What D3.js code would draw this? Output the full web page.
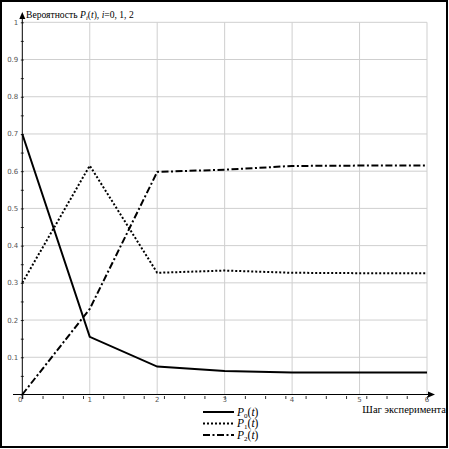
<!DOCTYPE html>
<html>
<head>
<meta charset="utf-8">
<script src="https://cdn.jsdelivr.net/npm/d3@7"></script>
<style>
  html, body { margin: 0; padding: 0; background: #fff; }
  svg { display: block; }
  .tick-label { font-family: "DejaVu Sans", sans-serif; font-size: 7px; fill: #555; }
  .serif { font-family: "Liberation Serif", "Times New Roman", serif; fill: #000; }
</style>
</head>
<body>
<div id="chart"></div>
<script>
  // ─── Data ───
  const steps = [0, 1, 2, 3, 4, 5, 6];
  const p0 = [0.7, 0.155, 0.075, 0.063, 0.059, 0.059, 0.059];
  const p1 = [0.3, 0.615, 0.327, 0.333, 0.327, 0.326, 0.326];
  const p2 = [0, 0.23, 0.598, 0.604, 0.614, 0.615, 0.615];
  const seriesNames = ['0', '1', '2'];
  const xTicks = [0, 1, 2, 3, 4, 5, 6];
  const yTicks = [0.1, 0.2, 0.3, 0.4, 0.5, 0.6, 0.7, 0.8, 0.9, 1];

  const W = 449, H = 449;
  const svg = d3.select('#chart').append('svg').attr('width', W).attr('height', H);

  const x = d3.scaleLinear().domain([0, 6]).range([22.3, 427]);
  const y = d3.scaleLinear().domain([0, 1]).range([394.5, 22.3]);

  // outer frame
  svg.append('rect')
    .attr('x', 1).attr('y', 1).attr('width', W - 3).attr('height', H - 3)
    .attr('fill', 'none').attr('stroke', '#000').attr('stroke-width', 2);

  // grid
  const grid = svg.append('g').attr('stroke', '#cfcfcf').attr('stroke-width', 1);
  grid.selectAll('line.v').data(xTicks.slice(1)).enter().append('line')
    .attr('x1', d => x(d)).attr('x2', d => x(d))
    .attr('y1', y(0)).attr('y2', y(1));
  grid.selectAll('line.h').data(yTicks).enter().append('line')
    .attr('x1', x(0)).attr('x2', x(6))
    .attr('y1', d => y(d)).attr('y2', d => y(d));

  // axes: minor ticks via d3 axes, labels added separately
  const xMinor = d3.range(0, 21).map(i => +(i * 0.3).toFixed(1));
  const yMinor = d3.range(0, 21).map(i => +(i * 0.05).toFixed(2));

  const xAxis = svg.append('g')
    .attr('transform', `translate(0,${y(0) + 1.5})`)
    .call(d3.axisBottom(x).tickValues(xMinor).tickSize(3).tickFormat(''));
  xAxis.select('.domain').remove();
  xAxis.selectAll('line').attr('stroke', '#333');

  const yAxis = svg.append('g')
    .attr('transform', `translate(${x(0) + 1.5},0)`)
    .call(d3.axisLeft(y).tickValues(yMinor).tickSize(3).tickFormat(''));
  yAxis.select('.domain').remove();
  yAxis.selectAll('line').attr('stroke', '#333');

  // axis lines with arrows
  svg.append('line').attr('x1', 13).attr('x2', 430).attr('y1', y(0)).attr('y2', y(0))
    .attr('stroke', '#000').attr('stroke-width', 1);
  svg.append('path').attr('d', `M435,${y(0)} L428,${y(0) - 3} L428,${y(0) + 3} Z`).attr('fill', '#000');
  svg.append('line').attr('x1', x(0)).attr('x2', x(0)).attr('y1', 399).attr('y2', 17)
    .attr('stroke', '#000').attr('stroke-width', 1);
  svg.append('path').attr('d', `M${x(0)},12 L${x(0) - 3},19 L${x(0) + 3},19 Z`).attr('fill', '#000');

  // tick labels
  svg.selectAll('text.xl').data(xTicks).enter().append('text')
    .attr('class', 'tick-label')
    .attr('x', d => x(d) - (d === 0 ? 2 : 0)).attr('y', y(0) + 7)
    .attr('text-anchor', 'middle')
    .text(d => d);
  svg.selectAll('text.yl').data(yTicks).enter().append('text')
    .attr('class', 'tick-label')
    .attr('x', x(0) - 4).attr('y', d => y(d) + 2.5)
    .attr('text-anchor', 'end')
    .text(d => d);

  // titles
  const yTitle = svg.append('text').attr('class', 'serif').attr('x', 26).attr('y', 18).attr('font-size', 9.6);
  yTitle.append('tspan').text('Вероятность ');
  yTitle.append('tspan').attr('font-style', 'italic').text('P');
  yTitle.append('tspan').attr('font-style', 'italic').attr('font-size', 6.5).attr('dy', 2).text('i');
  yTitle.append('tspan').attr('dy', -2).text('(');
  yTitle.append('tspan').attr('font-style', 'italic').text('t');
  yTitle.append('tspan').text('), ');
  yTitle.append('tspan').attr('font-style', 'italic').text('i');
  yTitle.append('tspan').text('=0, 1, 2');

  svg.append('text').attr('class', 'serif')
    .attr('x', 446).attr('y', 412.5).attr('text-anchor', 'end').attr('font-size', 10.5)
    .text('Шаг эксперимента');

  // series
  const styles = [
    { values: p0, dash: null },
    { values: p1, dash: '2,2' },
    { values: p2, dash: '7,2.5,2,2.5' }
  ];
  const line = d3.line().x((d, i) => x(steps[i])).y(d => y(d));

  svg.selectAll('path.series').data(styles).enter().append('path')
    .attr('class', 'series')
    .attr('d', d => line(d.values))
    .attr('fill', 'none')
    .attr('stroke', '#000')
    .attr('stroke-width', 2)
    .attr('stroke-dasharray', d => d.dash);

  // legend
  const legend = svg.append('g');
  const legendY = [412, 423.5, 435];
  styles.forEach((s, i) => {
    legend.append('line')
      .attr('x1', 203).attr('x2', 234).attr('y1', legendY[i]).attr('y2', legendY[i])
      .attr('stroke', '#000').attr('stroke-width', 2)
      .attr('stroke-dasharray', s.dash);
    const t = legend.append('text').attr('class', 'serif')
      .attr('x', 237).attr('y', legendY[i] + 3.5).attr('font-size', 11.5).attr('font-style', 'italic');
    t.append('tspan').text('P');
    t.append('tspan').attr('font-size', 7).attr('dy', 2).attr('font-style', 'normal').text(seriesNames[i]);
    t.append('tspan').attr('dy', -2).attr('font-style', 'normal').text('(');
    t.append('tspan').text('t');
    t.append('tspan').attr('font-style', 'normal').text(')');
  });
</script>
</body>
</html>
